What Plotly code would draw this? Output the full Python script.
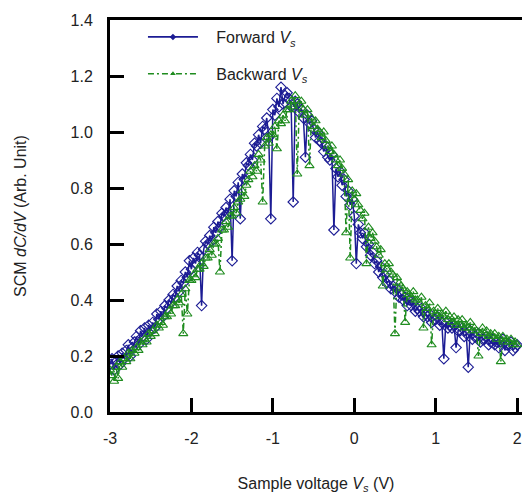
import plotly.graph_objects as go

# Sample voltage (V)
voltage = [
    -3.000, -2.975, -2.950, -2.925, -2.900, -2.875, -2.850, -2.825,
    -2.800, -2.775, -2.750, -2.725, -2.700, -2.675, -2.650, -2.625,
    -2.600, -2.575, -2.550, -2.525, -2.500, -2.475, -2.450, -2.425,
    -2.400, -2.375, -2.350, -2.325, -2.300, -2.275, -2.250, -2.225,
    -2.200, -2.175, -2.150, -2.125, -2.100, -2.075, -2.050, -2.025,
    -2.000, -1.975, -1.950, -1.925, -1.900, -1.875, -1.850, -1.825,
    -1.800, -1.775, -1.750, -1.725, -1.700, -1.675, -1.650, -1.625,
    -1.600, -1.575, -1.550, -1.525, -1.500, -1.475, -1.450, -1.425,
    -1.400, -1.375, -1.350, -1.325, -1.300, -1.275, -1.250, -1.225,
    -1.200, -1.175, -1.150, -1.125, -1.100, -1.075, -1.050, -1.025,
    -1.000, -0.975, -0.950, -0.925, -0.900, -0.875, -0.850, -0.825,
    -0.800, -0.775, -0.750, -0.725, -0.700, -0.675, -0.650, -0.625,
    -0.600, -0.575, -0.550, -0.525, -0.500, -0.475, -0.450, -0.425,
    -0.400, -0.375, -0.350, -0.325, -0.300, -0.275, -0.250, -0.225,
    -0.200, -0.175, -0.150, -0.125, -0.100, -0.075, -0.050, -0.025,
    0.000, 0.025, 0.050, 0.075, 0.100, 0.125, 0.150, 0.175,
    0.200, 0.225, 0.250, 0.275, 0.300, 0.325, 0.350, 0.375,
    0.400, 0.425, 0.450, 0.475, 0.500, 0.525, 0.550, 0.575,
    0.600, 0.625, 0.650, 0.675, 0.700, 0.725, 0.750, 0.775,
    0.800, 0.825, 0.850, 0.875, 0.900, 0.925, 0.950, 0.975,
    1.000, 1.025, 1.050, 1.075, 1.100, 1.125, 1.150, 1.175,
    1.200, 1.225, 1.250, 1.275, 1.300, 1.325, 1.350, 1.375,
    1.400, 1.425, 1.450, 1.475, 1.500, 1.525, 1.550, 1.575,
    1.600, 1.625, 1.650, 1.675, 1.700, 1.725, 1.750, 1.775,
    1.800, 1.825, 1.850, 1.875, 1.900, 1.925, 1.950, 1.975,
    2.000,
]

# Forward sweep dC/dV (Arb. Unit)
forward = [
    0.17, 0.19, 0.15, 0.18, 0.20, 0.17, 0.21, 0.19,
    0.22, 0.24, 0.20, 0.23, 0.25, 0.27, 0.24, 0.29,
    0.27, 0.30, 0.26, 0.31, 0.29, 0.32, 0.30, 0.35,
    0.33, 0.36, 0.34, 0.38, 0.37, 0.40, 0.39, 0.42,
    0.41, 0.45, 0.43, 0.47, 0.46, 0.50, 0.48, 0.54,
    0.51, 0.55, 0.53, 0.57, 0.56, 0.38, 0.58, 0.61,
    0.60, 0.63, 0.61, 0.66, 0.64, 0.68, 0.66, 0.71,
    0.70, 0.73, 0.71, 0.76, 0.54, 0.79, 0.77, 0.82,
    0.69, 0.85, 0.83, 0.89, 0.88, 0.92, 0.90, 0.96,
    0.95, 0.99, 0.96, 1.02, 1.01, 1.05, 0.98, 0.69,
    1.08, 1.06, 1.12, 1.09, 1.16, 1.10, 1.13, 1.14,
    1.12, 1.09, 0.75, 1.11, 1.10, 1.07, 1.08, 1.05,
    0.91, 1.06, 1.03, 1.04, 1.01, 0.98, 1.00, 0.97,
    0.96, 0.93, 0.95, 0.91, 0.90, 0.92, 0.65, 0.87,
    0.84, 0.86, 0.81, 0.83, 0.77, 0.79, 0.74, 0.76,
    0.70, 0.53, 0.67, 0.64, 0.62, 0.64, 0.59, 0.60,
    0.56, 0.57, 0.53, 0.54, 0.50, 0.52, 0.48, 0.49,
    0.46, 0.47, 0.44, 0.45, 0.43, 0.44, 0.41, 0.42,
    0.40, 0.41, 0.38, 0.40, 0.38, 0.39, 0.36, 0.37,
    0.36, 0.37, 0.34, 0.35, 0.34, 0.35, 0.32, 0.33,
    0.33, 0.34, 0.31, 0.32, 0.19, 0.32, 0.30, 0.31,
    0.30, 0.31, 0.23, 0.29, 0.29, 0.30, 0.27, 0.28,
    0.16, 0.29, 0.26, 0.27, 0.27, 0.28, 0.25, 0.26,
    0.26, 0.27, 0.24, 0.25, 0.26, 0.24, 0.25, 0.23,
    0.25, 0.26, 0.22, 0.24, 0.24, 0.25, 0.22, 0.23,
    0.24,
]

# Backward sweep dC/dV (Arb. Unit)
backward = [
    0.15, 0.13, 0.11, 0.16, 0.12, 0.18, 0.16, 0.19,
    0.18, 0.21, 0.19, 0.22, 0.21, 0.23, 0.22, 0.25,
    0.24, 0.26, 0.25, 0.28, 0.27, 0.29, 0.28, 0.31,
    0.30, 0.32, 0.31, 0.34, 0.34, 0.36, 0.35, 0.38,
    0.38, 0.40, 0.39, 0.42, 0.28, 0.44, 0.35, 0.47,
    0.47, 0.49, 0.48, 0.51, 0.51, 0.53, 0.52, 0.55,
    0.55, 0.58, 0.56, 0.60, 0.60, 0.62, 0.50, 0.65,
    0.65, 0.68, 0.66, 0.70, 0.70, 0.73, 0.71, 0.75,
    0.76, 0.79, 0.77, 0.81, 0.83, 0.86, 0.84, 0.88,
    0.86, 0.92, 0.90, 0.75, 0.95, 0.98, 0.96, 0.99,
    0.99, 1.02, 0.94, 1.04, 1.03, 1.06, 1.04, 1.08,
    1.08, 1.11, 1.09, 1.13, 0.85, 1.10, 1.11, 1.08,
    1.06, 1.08, 0.88, 1.05, 1.02, 1.04, 1.01, 1.00,
    0.98, 1.00, 0.97, 0.95, 0.93, 0.95, 0.92, 0.90,
    0.88, 0.90, 0.87, 0.85, 0.64, 0.83, 0.55, 0.79,
    0.76, 0.78, 0.74, 0.72, 0.69, 0.71, 0.53, 0.66,
    0.62, 0.64, 0.61, 0.59, 0.56, 0.58, 0.45, 0.53,
    0.51, 0.53, 0.50, 0.49, 0.28, 0.48, 0.46, 0.45,
    0.44, 0.32, 0.43, 0.42, 0.41, 0.43, 0.40, 0.40,
    0.39, 0.41, 0.30, 0.38, 0.37, 0.39, 0.24, 0.36,
    0.35, 0.37, 0.34, 0.35, 0.34, 0.36, 0.33, 0.34,
    0.32, 0.34, 0.31, 0.33, 0.31, 0.33, 0.30, 0.31,
    0.30, 0.32, 0.29, 0.30, 0.29, 0.20, 0.28, 0.30,
    0.28, 0.29, 0.27, 0.28, 0.27, 0.28, 0.26, 0.27,
    0.18, 0.27, 0.25, 0.26, 0.25, 0.26, 0.24, 0.25,
    0.24,
]

x_ticks = [-3, -2, -1, 0, 1, 2]
y_ticks = [0.0, 0.2, 0.4, 0.6, 0.8, 1.0, 1.2, 1.4]

BLUE = "#1c1c94"
GREEN = "#1f8c1f"
FONT = "Liberation Sans, Arial, sans-serif"
DASHDOT = "6px,3px,2px,3px"
PAD = "\u00a0\u00a0\u00a0"

fig = go.Figure()

fig.add_trace(go.Scatter(
    x=voltage, y=forward, mode="lines+markers", showlegend=False,
    line=dict(color=BLUE, width=1.5),
    marker=dict(symbol="diamond-open", size=8, color=BLUE, line=dict(width=1.1, color=BLUE)),
))
fig.add_trace(go.Scatter(
    x=voltage, y=backward, mode="lines+markers", showlegend=False,
    line=dict(color=GREEN, width=1.5, dash=DASHDOT),
    marker=dict(symbol="triangle-up-open", size=8, color=GREEN, line=dict(width=1.1, color=GREEN)),
))

# legend entries (small filled markers as in the reference legend)
fig.add_trace(go.Scatter(
    x=[None], y=[None], mode="lines+markers", name=PAD + "Forward <i>V</i><sub><i>s</i></sub>",
    legendgroup="f",
    line=dict(color=BLUE, width=1.6),
    marker=dict(symbol="diamond", size=5, color=BLUE),
))
fig.add_trace(go.Scatter(
    x=[None], y=[None], mode="lines+markers", name=PAD + "Backward <i>V</i><sub><i>s</i></sub>",
    legendgroup="b",
    line=dict(color=GREEN, width=1.6, dash=DASHDOT),
    marker=dict(symbol="triangle-up", size=5, color=GREEN),
))

fig.update_layout(
    width=522, height=494,
    margin=dict(l=110, r=0, t=20, b=82),
    paper_bgcolor="white", plot_bgcolor="white",
    font=dict(family=FONT, size=16, color="#222222"),
    legend=dict(
        x=0.08, y=1.0, xanchor="left", yanchor="top",
        bgcolor="rgba(0,0,0,0)", itemwidth=50, tracegroupgap=13,
        font=dict(size=16),
    ),
    xaxis=dict(
        range=[-3, 2.06], tickvals=x_ticks, ticktext=[str(v) for v in x_ticks],
        showgrid=False, zeroline=False, automargin=False,
        showline=True, linecolor="black", linewidth=3, mirror=True,
        ticks="inside", ticklen=14, tickwidth=3, tickcolor="black",
        ticklabelstandoff=10,
        title=dict(text="Sample voltage <i>V</i><sub><i>s</i></sub> (V)", standoff=33,
                   font=dict(size=16)),
    ),
    yaxis=dict(
        range=[0, 1.4], tickvals=y_ticks, ticktext=[f"{v:.1f}" for v in y_ticks],
        showgrid=False, zeroline=False, automargin=False,
        showline=True, linecolor="black", linewidth=3,
        ticks="inside", ticklen=14, tickwidth=3, tickcolor="black",
        ticklabelstandoff=11,
        title=dict(text="SCM <i>dC/dV</i> (Arb. Unit)", standoff=40, font=dict(size=16)),
    ),
)

fig.write_html(
    "out.html",
    config={"displayModeBar": False},
    post_script="document.body.style.margin='0';document.body.style.overflow='hidden';",
)
